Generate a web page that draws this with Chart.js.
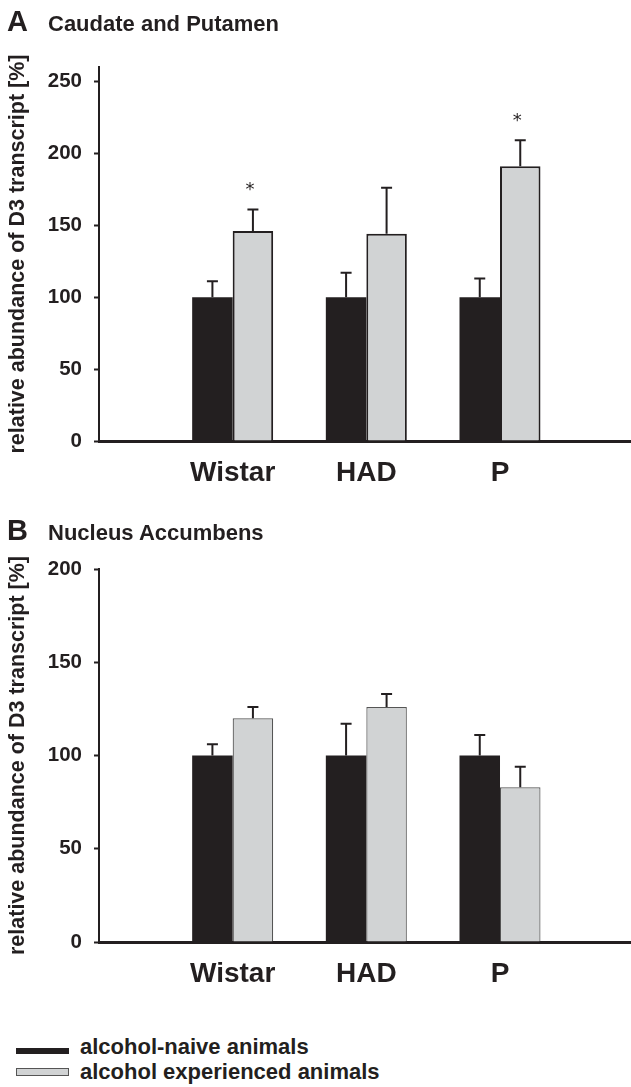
<!DOCTYPE html>
<html>
<head>
<meta charset="utf-8">
<script src="https://cdn.jsdelivr.net/npm/chart.js@4.4.1/dist/chart.umd.min.js"></script>
<style>
  body { margin: 0; background: #fff; width: 631px; height: 1087px; position: relative; overflow: hidden;
         font-family: "Liberation Sans", Arial, sans-serif; font-weight: bold; color: #231f20; }
  .wrap { position: absolute; left: 0; width: 631px; }
  .txt { position: absolute; line-height: 1; white-space: nowrap; }
  .sw { position: absolute; left: 16px; width: 53px; box-sizing: border-box; }
</style>
</head>
<body>
<div class="wrap" style="top:0;height:491px"><canvas id="chartA"></canvas></div>
<div class="wrap" style="top:500px;height:500px"><canvas id="chartB"></canvas></div>

<!-- panel letters and titles -->
<div class="txt" style="left:7px;top:7px;font-size:29px">A</div>
<div class="txt" style="left:48px;top:13px;font-size:22px">Caudate and Putamen</div>
<div class="txt" style="left:7px;top:516px;font-size:29px">B</div>
<div class="txt" style="left:48px;top:522px;font-size:22px">Nucleus Accumbens</div>

<!-- legend at the bottom -->
<div class="sw" style="top:1047.5px;height:6px;background:#231f20"></div>
<div class="txt" style="left:80px;top:1035.5px;font-size:22px">alcohol-naive animals</div>
<div class="sw" style="top:1068px;height:7.5px;background:#d1d3d4;border:1px solid #555"></div>
<div class="txt" style="left:80px;top:1061px;font-size:22px">alcohol experienced animals</div>

<script>
// groups on the x axis (placed at 1, 2, 3 on a linear scale)
const groups = ['Wistar', 'HAD', 'P'];
const groupPos = [1, 2, 3];

// A - caudate and putamen
const naiveA = [100, 100, 100];
const naiveErrA = [11, 17, 13];
const expA = [146, 144, 191];
const expErrA = [15, 32, 18];
const sigA = [true, false, true];
const ticksA = [0, 50, 100, 150, 200, 250];
const maxA = 260;

// B - nucleus accumbens
const naiveB = [100, 100, 100];
const naiveErrB = [6, 17, 11];
const expB = [120, 126, 83];
const expErrB = [6, 7, 11];
const sigB = [false, false, false];
const ticksB = [0, 50, 100, 150, 200];
const maxB = 200;

const ink = '#231f20';
const grey = '#d1d3d4';
const fontFam = '"Liberation Sans", Arial, sans-serif';

// error bars (only the upper half) and the significance stars
const errorBars = {
    id: 'errorBars',
    afterDatasetsDraw(chart) {
        const ctx = chart.ctx;
        const yScale = chart.scales.y;
        ctx.save();
        chart.data.datasets.forEach((ds, i) => {
            const meta = chart.getDatasetMeta(i);
            meta.data.forEach((bar, j) => {
                const top = yScale.getPixelForValue(ds.data[j].y + ds.errors[j]);
                ctx.strokeStyle = ink;
                ctx.lineWidth = 2;
                ctx.beginPath();
                ctx.moveTo(bar.x, bar.y);
                ctx.lineTo(bar.x, top);
                ctx.moveTo(bar.x - 5.5, top);
                ctx.lineTo(bar.x + 5.5, top);
                ctx.stroke();
                if (ds.sig && ds.sig[j]) {
                    ctx.fillStyle = ink;
                    ctx.font = '18px "DejaVu Sans"';
                    ctx.textAlign = 'center';
                    ctx.textBaseline = 'middle';
                    ctx.fillText('*', bar.x - 3, top - 19);
                }
            });
        });
        ctx.restore();
    }
};

const makeChart = (id, naive, naiveErr, exp, expErr, sig, yTicks, yMax, topPad, bottomPad, expBorder, expBorderW) => {
    new Chart(document.getElementById(id), {
        type: 'bar',
        data: {
            datasets: [{
                label: 'alcohol-naive animals',
                data: groupPos.map((x, i) => ({ x: x, y: naive[i] })),
                errors: naiveErr,
                backgroundColor: ink,
                borderWidth: 0
            }, {
                label: 'alcohol experienced animals',
                data: groupPos.map((x, i) => ({ x: x, y: exp[i] })),
                errors: expErr,
                sig: sig,
                backgroundColor: grey,
                borderColor: expBorder,
                borderWidth: expBorderW
            }]
        },
        options: {
            responsive: true,
            maintainAspectRatio: false,
            animation: false,
            categoryPercentage: 0.606,
            barPercentage: 1,
            layout: { padding: { top: topPad, bottom: bottomPad, left: 0, right: 0 } },
            plugins: { legend: { display: false }, tooltip: { enabled: false } },
            scales: {
                x: {
                    type: 'linear',
                    offset: false,
                    min: 0,
                    max: 3.98,
                    afterBuildTicks: s => { s.ticks = groupPos.map(v => ({ value: v })); },
                    afterFit: s => { s.height = 50; },
                    grid: { offset: false, drawOnChartArea: false, drawTicks: false },
                    border: { color: ink, width: 3 },
                    ticks: {
                        padding: 15,
                        color: ink,
                        maxRotation: 0,
                        autoSkip: false,
                        font: { family: fontFam, size: 28, weight: 'bold' },
                        callback: v => groups[groupPos.indexOf(v)] || ''
                    }
                },
                y: {
                    min: 0,
                    max: yMax,
                    afterBuildTicks: s => { s.ticks = yTicks.map(v => ({ value: v })); },
                    afterFit: s => { s.width = 99; },
                    grid: { drawOnChartArea: false, drawTicks: true, tickLength: 5, tickColor: ink, tickWidth: 2 },
                    border: { color: ink, width: 2 },
                    ticks: { padding: 12, color: ink, font: { family: fontFam, size: 20.5, weight: 'bold' } },
                    title: {
                        display: true,
                        text: 'relative abundance of D3 transcript [%]',
                        color: ink,
                        font: { family: fontFam, size: 21.5, weight: 'bold' },
                        padding: { top: 5, bottom: 0 }
                    }
                }
            }
        },
        plugins: [errorBars]
    });
};

makeChart('chartA', naiveA, naiveErrA, expA, expErrA, sigA, ticksA, maxA, 67, 0, ink, 2);
makeChart('chartB', naiveB, naiveErrB, expB, expErrB, sigB, ticksB, maxB, 69, 8, '#555', 1.2);
</script>
</body>
</html>
